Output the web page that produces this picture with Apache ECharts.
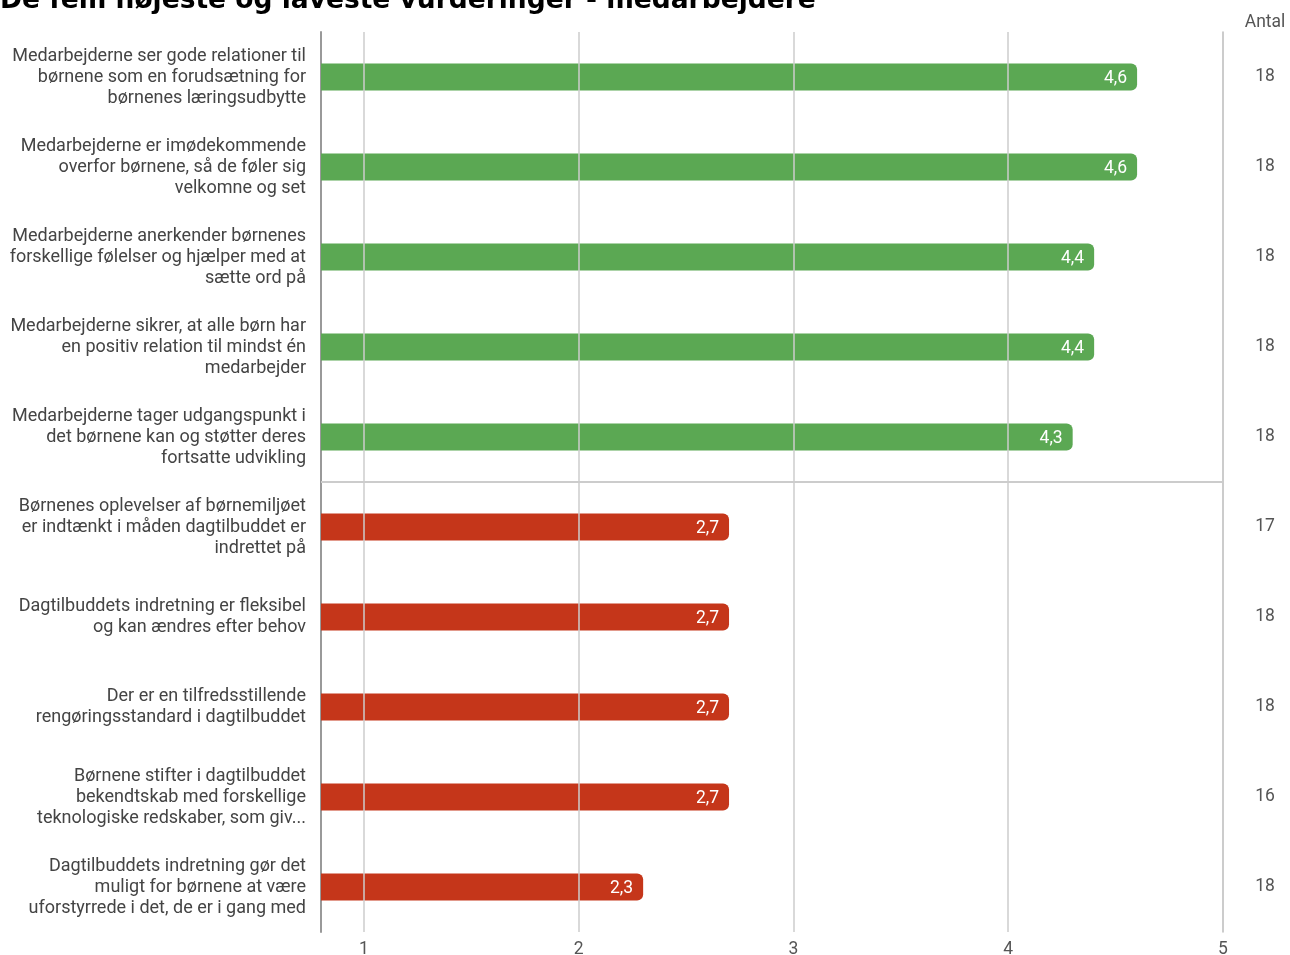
<!DOCTYPE html>
<html>
<head>
<meta charset="utf-8">
<script src="https://cdn.jsdelivr.net/npm/echarts@6/dist/echarts.min.js"></script>
<style>
html,body{margin:0;padding:0;background:#fff;}
#chart{width:1290px;height:955px;}
</style>
</head>
<body>
<div id="chart"></div>
<script>
var title = 'De fem højeste og laveste vurderinger - medarbejdere';
var categories = [
  'Medarbejderne ser gode relationer til\nbørnene som en forudsætning for\nbørnenes læringsudbytte',
  'Medarbejderne er imødekommende\noverfor børnene, så de føler sig\nvelkomne og set',
  'Medarbejderne anerkender børnenes\nforskellige følelser og hjælper med at\nsætte ord på',
  'Medarbejderne sikrer, at alle børn har\nen positiv relation til mindst én\nmedarbejder',
  'Medarbejderne tager udgangspunkt i\ndet børnene kan og støtter deres\nfortsatte udvikling',
  'Børnenes oplevelser af børnemiljøet\ner indtænkt i måden dagtilbuddet er\nindrettet på',
  'Dagtilbuddets indretning er fleksibel\nog kan ændres efter behov',
  'Der er en tilfredsstillende\nrengøringsstandard i dagtilbuddet',
  'Børnene stifter i dagtilbuddet\nbekendtskab med forskellige\nteknologiske redskaber, som giv...',
  'Dagtilbuddets indretning gør det\nmuligt for børnene at være\nuforstyrrede i det, de er i gang med'
];
var values = [4.6, 4.6, 4.4, 4.4, 4.3, 2.7, 2.7, 2.7, 2.7, 2.3];
var groups = ['high','high','high','high','high','low','low','low','low','low'];
var antal = ['18','18','18','18','18','17','18','18','16','18'];
var antalHeader = 'Antal';
var xTicks = [1, 2, 3, 4, 5];
var xMin = 0.8, xMax = 5;
var highCount = 5; // separator between the five highest and five lowest

var colors = {high: '#5BA853', low: '#C5361A'};
var chart = echarts.init(document.getElementById('chart'), null, {renderer: 'canvas'});
var font = 'Roboto, "Noto Sans", sans-serif';

var option = {
  animation: false,
  title: [
    {text: title, left: 0, top: -12, padding: 0,
     textStyle: {fontFamily: '"DejaVu Sans", Verdana, sans-serif', fontWeight: 'bold', fontSize: 26.5, color: '#000'}},
    {text: antalHeader, left: 1265, top: 14, padding: 0, textAlign: 'center',
     textStyle: {fontFamily: font, fontWeight: 'normal', fontSize: 17.5, color: '#555'}}
  ],
  grid: {left: 321, right: 67, top: 32, bottom: 23, containLabel: false, outerBoundsMode: 'none'},
  xAxis: {
    type: 'value', min: xMin, max: xMax,
    axisLine: {show: false},
    axisTick: {show: false, customValues: xTicks},
    axisLabel: {customValues: xTicks, color: '#555', fontSize: 17.5, fontFamily: font, margin: 9,
      formatter: function (v) { return String(v).replace('.', ','); }},
    splitLine: {show: false}
  },
  yAxis: [
    {
      type: 'category', data: categories, inverse: true,
      axisLine: {show: true, lineStyle: {color: '#999', width: 2}},
      axisTick: {show: false},
      axisLabel: {color: '#444', fontSize: 18, fontFamily: font, lineHeight: 21, margin: 15, align: 'right',
        padding: [6, 0, 0, 0]},
      splitLine: {show: false}
    },
    {
      type: 'category', data: antal, inverse: true, position: 'right',
      axisLine: {show: true, lineStyle: {color: '#bbb', width: 1.5}},
      axisTick: {show: false},
      axisLabel: {color: '#555', fontSize: 17.5, fontFamily: font, margin: 42, align: 'center',
        padding: [5, 0, 0, 0]},
      splitLine: {show: false}
    },
    {
      type: 'value', min: 0, max: categories.length, inverse: true, show: false,
      splitLine: {show: false}
    }
  ],
  series: [
    {
      type: 'line', yAxisIndex: 2, data: [[xMin, 0]], showSymbol: false, symbol: 'none',
      lineStyle: {opacity: 0}, silent: true, z: 1,
      markLine: {
        silent: true, symbol: 'none', label: {show: false},
        lineStyle: {color: '#ccc', type: 'solid', width: 2},
        data: [{yAxis: highCount}]
      }
    },
    {
      type: 'bar', yAxisIndex: 0, barWidth: 27,
      data: values.map(function (v, i) {
        return {value: v, itemStyle: {color: colors[groups[i]], borderRadius: [0, 6, 6, 0]}};
      }),
      label: {show: true, position: 'insideRight', distance: 10, offset: [0, 2], color: '#fff', fontSize: 17.5, fontFamily: font,
        formatter: function (p) { return p.value.toFixed(1).replace('.', ','); }},
      markLine: {
        silent: true, symbol: 'none', label: {show: false},
        lineStyle: {color: '#ccc', type: 'solid', width: 1.5},
        data: xTicks.map(function (t) { return {xAxis: t}; })
      },
      z: 3
    }
  ]
};
chart.setOption(option);
</script>
</body>
</html>
